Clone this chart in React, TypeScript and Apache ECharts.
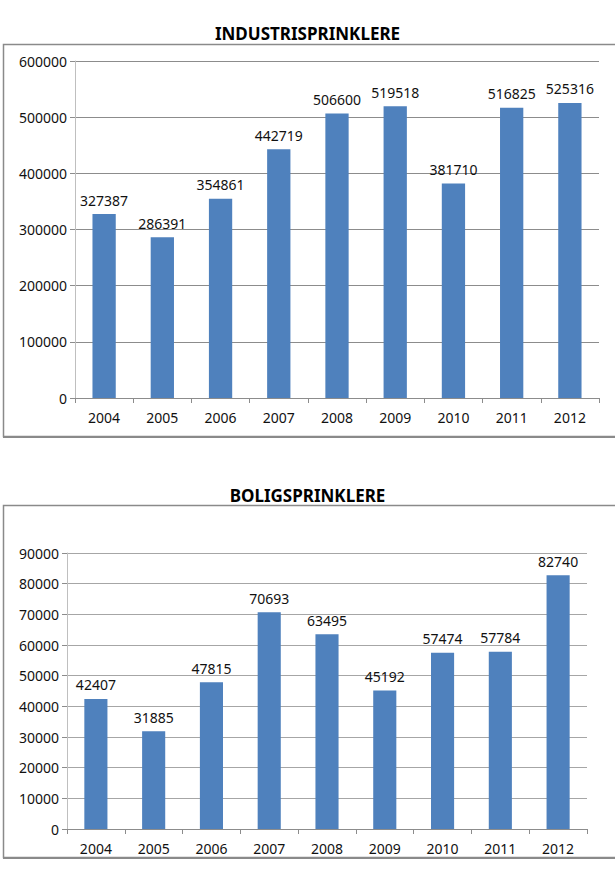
import React, { useEffect, useRef } from "react";
import * as echarts from "echarts";

const years = ["2004", "2005", "2006", "2007", "2008", "2009", "2010", "2011", "2012"];
const industriValues = [327387, 286391, 354861, 442719, 506600, 519518, 381710, 516825, 525316];
const boligValues = [42407, 31885, 47815, 70693, 63495, 45192, 57474, 57784, 82740];
const titles = ["INDUSTRISPRINKLERE", "BOLIGSPRINKLERE"];

const FONT = "Noto Sans";
const BAR = "#4F81BD";

export default function App() {
  const ref = useRef<HTMLDivElement>(null);
  useEffect(() => {
    if (!ref.current) return;
    const chart = echarts.init(ref.current, null, { renderer: "svg" });
    const yAxisCommon = (gridIndex: number, max: number, interval: number, gridColor: string) => ({
      type: "value",
      gridIndex,
      min: 0,
      max,
      interval,
      axisLine: { show: true, lineStyle: { color: "#bfbfbf", width: 1 } },
      axisTick: { show: true, length: 5, lineStyle: { color: "#8c8c8c" } },
      axisLabel: {
        color: "#111",
        fontFamily: FONT,
        fontSize: 14,
        margin: 8,
        formatter: (v: number) => String(v),
      },
      splitLine: { show: true, lineStyle: { color: gridColor, width: 1 } },
    });
    const xAxisCommon = (gridIndex: number) => ({
      type: "category",
      gridIndex,
      data: years,
      axisLine: { show: true, lineStyle: { color: "#8c8c8c", width: 1 } },
      axisTick: { show: true, length: 5, interval: 0, lineStyle: { color: "#8c8c8c" } },
      axisLabel: { color: "#111", fontFamily: FONT, fontSize: 14, margin: 12, interval: 0 },
    });
    const barSeries = (idx: number, data: number[]) => ({
      type: "bar",
      xAxisIndex: idx,
      yAxisIndex: idx,
      data,
      barWidth: "40%",
      itemStyle: { color: BAR },
      label: {
        show: true,
        position: "top",
        distance: 7,
        color: "#111",
        fontFamily: FONT,
        fontSize: 14,
      },
    });
    chart.setOption({
      animation: false,
      backgroundColor: "#ffffff",
      title: [
        {
          text: titles[0],
          left: "center",
          top: 20,
          textStyle: { fontFamily: FONT, fontSize: 17, fontWeight: "bold", color: "#000" },
        },
        {
          text: titles[1],
          left: "center",
          top: 482,
          textStyle: { fontFamily: FONT, fontSize: 17, fontWeight: "bold", color: "#000" },
        },
      ],
      graphic: [
        {
          type: "rect",
          shape: { x: 3.5, y: 44.5, width: 640, height: 392 },
          style: { fill: "none", stroke: "#8a8a8a", lineWidth: 1.5 },
          silent: true,
        },
        {
          type: "line",
          shape: { x1: 3, y1: 437, x2: 640, y2: 437 },
          style: { stroke: "#8a8a8a", lineWidth: 2 },
          silent: true,
        },
        {
          type: "rect",
          shape: { x: 3.5, y: 505.5, width: 640, height: 352 },
          style: { fill: "none", stroke: "#8a8a8a", lineWidth: 1.5 },
          silent: true,
        },
        {
          type: "line",
          shape: { x1: 3, y1: 858, x2: 640, y2: 858 },
          style: { stroke: "#8a8a8a", lineWidth: 2 },
          silent: true,
        },
      ],
      grid: [
        { left: 75, right: 16, top: 61, height: 337 },
        { left: 67, right: 28, top: 553, height: 276 },
      ],
      xAxis: [xAxisCommon(0), xAxisCommon(1)],
      yAxis: [yAxisCommon(0, 600000, 100000, "#8c8c8c"), yAxisCommon(1, 90000, 10000, "#a6a6a6")],
      series: [barSeries(0, industriValues), barSeries(1, boligValues)],
    });
    return () => chart.dispose();
  }, []);
  return (
    <div
      ref={ref}
      style={{ position: "absolute", left: 0, top: 0, width: 615, height: 871 }}
    />
  );
}
